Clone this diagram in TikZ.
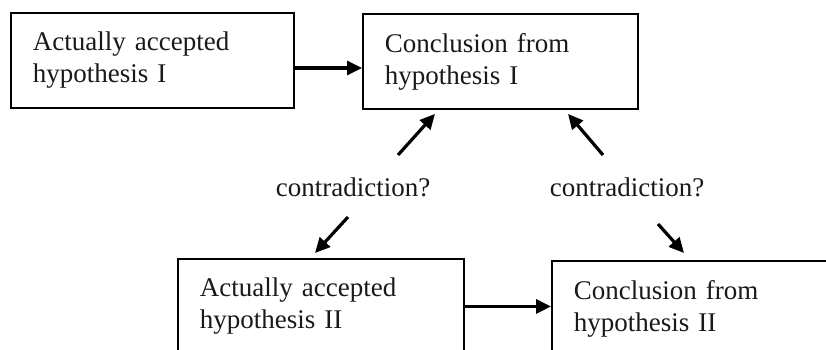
\documentclass[tikz,border=0pt]{standalone}
\usepackage{fontspec}
\setmainfont{Liberation Serif}
\usetikzlibrary{arrows.meta,calc}
\begin{document}
\begin{tikzpicture}[x=1pt,y=-1pt,
  hyp/.style={draw=black,line width=1.9pt,anchor=north west,align=left,
    inner xsep=22pt,inner ysep=0pt,minimum height=95pt,
    font=\fontsize{27}{32}\selectfont,text=black!90},
  lbl/.style={font=\fontsize{27}{32}\selectfont,text=black!90,inner sep=0pt},
  arr/.style={line width=3.2pt,-{Triangle[length=15pt,width=14pt]}}]
\useasboundingbox (0,0) rectangle (826,350);
\clip (0,0) rectangle (826,350);

% hypothesis boxes
\node[hyp,text width=239pt] (h1) at (10,12) {Actually accepted\\hypothesis I};
\node[hyp,text width=231pt] (c1) at (362,13) {Conclusion from\\hypothesis I};
\node[hyp,text width=242pt] (h2) at (177,258) {Actually accepted\\hypothesis II};
\node[hyp,text width=260pt] (c2) at (551,260) {Conclusion from\\hypothesis II};

% question labels
\node[lbl] (q1) at (353,187) {contradiction?};
\node[lbl] (q2) at (627,187) {contradiction?};

% arrow ends near the labels
\coordinate (q1up) at (398,155);
\coordinate (q2up) at (603,155);
\coordinate (q1dn) at (348,217);
\coordinate (q2dn) at (658,224);
\coordinate (mid1) at (300,68);

% inference arrows
\draw[arr] (h1.east |- mid1) -- (c1.west |- mid1);
\draw[arr] (h2.east) -- (h2.east -| c2.west);

% contradiction arrows
\draw[arr] (q1up) -- ($(c1.south west)+(73,4)$);
\draw[arr] (q2up) -- ($(c1.south west)+(206,4)$);
\draw[arr] (q1dn) -- ($(h2.north west)+(138,-5)$);
\draw[arr] (q2dn) -- ($(c2.north west)+(133,-7)$);
\end{tikzpicture}
\end{document}
